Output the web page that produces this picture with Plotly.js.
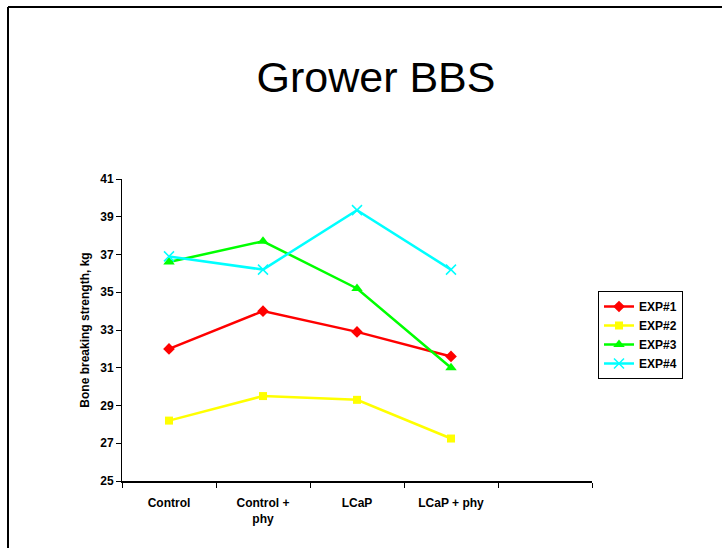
<!DOCTYPE html>
<html>
<head>
<meta charset="utf-8">
<script src="https://cdn.plot.ly/plotly-3.0.1.min.js"></script>
<style>
  html, body { margin: 0; padding: 0; background: #fff; }
  #chart { width: 722px; height: 548px; }
</style>
</head>
<body>
<div id="chart"></div>
<script>
// ---- data ----
const categories = ["Control", "Control +<br>phy", "LCaP", "LCaP + phy", " "];
const seriesNames = ["EXP#1", "EXP#2", "EXP#3", "EXP#4"];
const exp1 = [32.0, 34.0, 32.9, 31.6];
const exp2 = [28.2, 29.5, 29.3, 27.25];
const exp3 = [36.6, 37.7, 35.2, 31.0];
const exp4 = [36.9, 36.2, 39.35, 36.2];
const yTicks = [25, 27, 29, 31, 33, 35, 37, 39, 41];

const FONT = "Arial, 'Liberation Sans', sans-serif";
const pointCats = categories.slice(0, 4);

const styles = [
  {color: "#FF0000", symbol: "diamond", size: 9},
  {color: "#FFFF00", symbol: "square", size: 8},
  {color: "#00FF00", symbol: "triangle-up", size: 10},
  {color: "#00FFFF", symbol: "x-thin-open", size: 10}
];
const values = [exp1, exp2, exp3, exp4];

const traces = values.map((v, i) => ({
  type: "scatter",
  mode: "lines+markers",
  name: seriesNames[i],
  x: pointCats,
  y: v,
  line: {color: styles[i].color, width: 2.5},
  marker: {
    color: styles[i].color,
    symbol: styles[i].symbol,
    size: styles[i].size,
    line: {color: styles[i].color, width: styles[i].symbol === "x-thin-open" ? 1.5 : 0}
  }
}));

const L = 122, R = 592, T = 179, B = 481;
const px2x = p => (p - L) / (R - L);
const py2y = p => (B - p) / (B - T);

const layout = {
  width: 722,
  height: 548,
  margin: {l: L, r: 722 - R, t: T, b: 548 - B, pad: 0},
  paper_bgcolor: "#ffffff",
  plot_bgcolor: "#ffffff",
  font: {family: FONT, color: "#000000"},
  showlegend: true,
  title: {
    text: "Grower BBS",
    font: {family: FONT, size: 43, color: "#000000"},
    xref: "container", yref: "container",
    x: 376 / 722, xanchor: "center",
    y: 1 - 77 / 548, yanchor: "middle"
  },
  xaxis: {
    type: "category",
    categoryorder: "array",
    categoryarray: categories,
    range: [-0.5, 4.5],
    tickson: "boundaries",
    ticks: "outside",
    ticklen: 5,
    tickwidth: 1,
    tickcolor: "#000000",
    ticklabelstandoff: 10,
    showline: true,
    linecolor: "#000000",
    linewidth: 1.5,
    showgrid: false,
    zeroline: false,
    tickfont: {family: FONT, size: 12, color: "#000000", weight: "bold"},
    fixedrange: true
  },
  yaxis: {
    range: [25, 41],
    tickvals: yTicks,
    ticktext: yTicks.map(String),
    ticks: "outside",
    ticklen: 5,
    tickwidth: 1,
    tickcolor: "#000000",
    showline: true,
    linecolor: "#000000",
    linewidth: 1,
    showgrid: false,
    zeroline: false,
    tickfont: {family: FONT, size: 12, color: "#000000", weight: "bold"},
    title: {
      text: "Bone breaking strength, kg",
      font: {family: FONT, size: 12, color: "#000000", weight: "bold"},
      standoff: 8
    },
    fixedrange: true
  },
  legend: {
    x: px2x(598), xanchor: "left",
    y: py2y(291), yanchor: "top",
    bgcolor: "#ffffff",
    bordercolor: "#000000",
    borderwidth: 1,
    font: {family: FONT, size: 12, color: "#000000", weight: "bold"},
    tracegroupgap: 0,
    itemwidth: 30
  },
  shapes: [
    {type: "line", xref: "paper", yref: "paper",
     x0: px2x(8), x1: px2x(740), y0: py2y(7), y1: py2y(7),
     line: {color: "#000000", width: 2}},
    {type: "line", xref: "paper", yref: "paper",
     x0: px2x(8), x1: px2x(8), y0: py2y(7), y1: py2y(560),
     line: {color: "#000000", width: 2}}
  ]
};

Plotly.newPlot("chart", traces, layout, {displayModeBar: false, staticPlot: true});
</script>
</body>
</html>
